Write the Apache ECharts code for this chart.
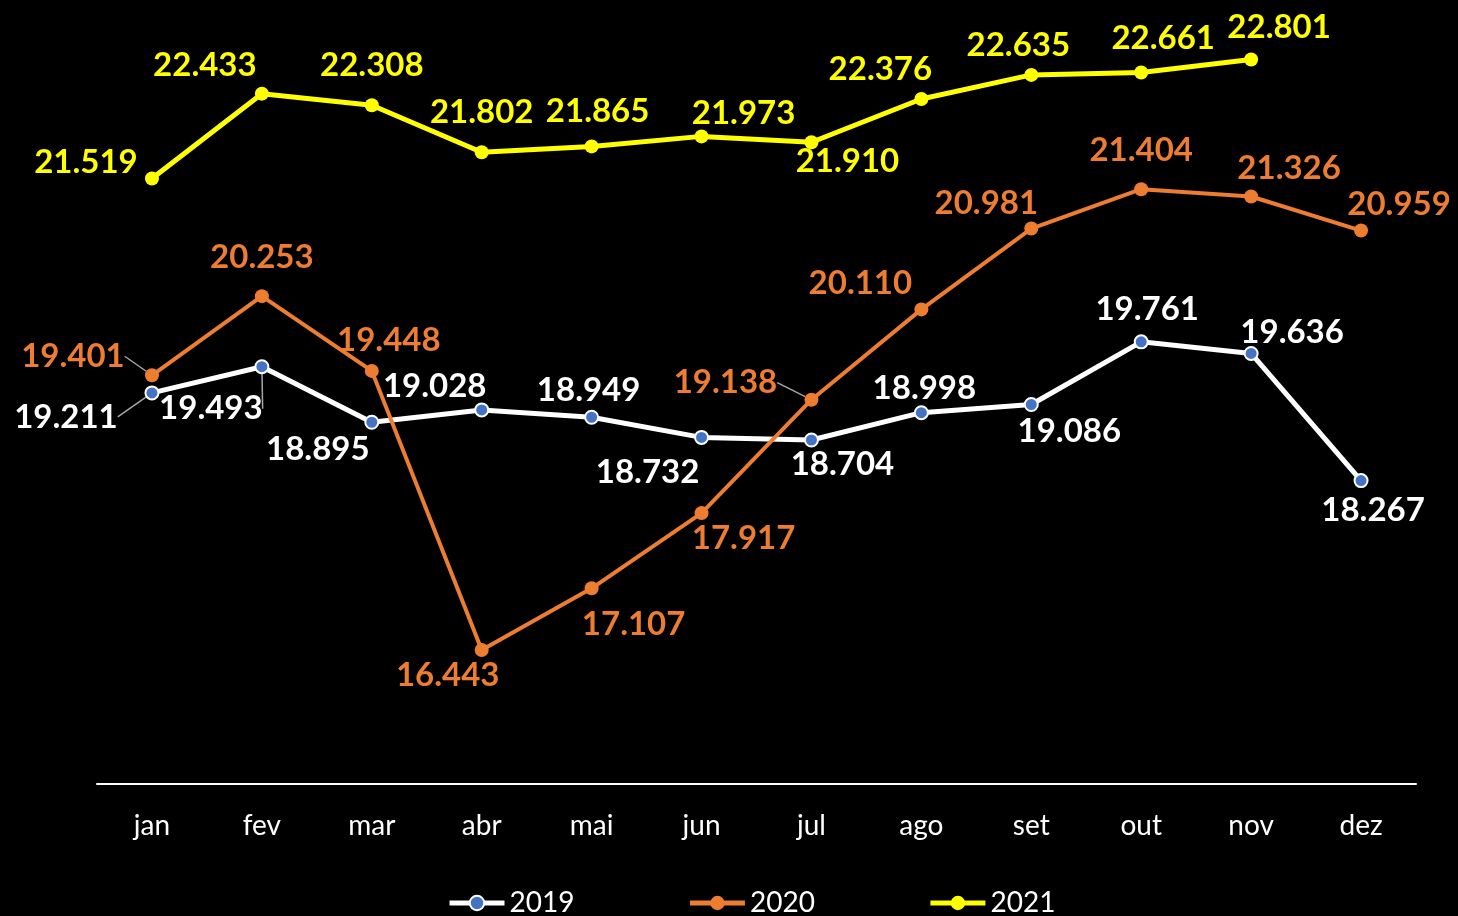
<!DOCTYPE html>
<html>
<head>
<meta charset="utf-8">
<style>
  html, body { margin: 0; padding: 0; background: #000; }
  #chart { width: 1458px; height: 916px; }
</style>
<script src="https://cdn.jsdelivr.net/npm/echarts@6/dist/echarts.min.js"></script>
</head>
<body>
<div id="chart"></div>
<script>
const months = ['jan', 'fev', 'mar', 'abr', 'mai', 'jun', 'jul', 'ago', 'set', 'out', 'nov', 'dez']
const seriesNames = ['2019', '2020', '2021']
const values2019 = [19.211, 19.493, 18.895, 19.028, 18.949, 18.732, 18.704, 18.998, 19.086, 19.761, 19.636, 18.267]
const values2020 = [19.401, 20.253, 19.448, 16.443, 17.107, 17.917, 19.138, 20.110, 20.981, 21.404, 21.326, 20.959]
const values2021 = [21.519, 22.433, 22.308, 21.802, 21.865, 21.973, 21.910, 22.376, 22.635, 22.661, 22.801]

// label offsets (px) from each point
const offsets = [
  [[-86, 24], [-51, 42], [-54, 27], [-47, -24], [-3, -27], [-54, 35], [31, 24], [3, -24], [38, 27], [6, -32], [41, -21], [12, 30]],
  [[-79, -19], [0, -39], [17, -31], [-34, 25], [42, 36], [42, 25], [-86, -17], [-61, -26], [-45, -25], [0, -39], [38, -28], [38, -26]],
  [[-66, -16], [-57, -28], [0, -40], [0, -40], [6, -35], [42, -23], [36, 19], [-41, -30], [-13, -30], [22, -34], [28, -32]]
]
// points whose label has a leader line
const leaders = [[0, 1], [0, 6], []]

const labelFont = 'Lato, "Open Sans", sans-serif'

const makeSeries = ( idx, values, color, lineWidth, symbolSize, symbolColor, borderColor ) => ( {
  name : seriesNames[idx],
  type : 'line',
  data : values.map( ( v, i ) => ( {
    value : v,
    labelLine : { show : leaders[idx].includes( i ) }
  } ) ),
  symbol : 'circle',
  symbolSize,
  lineStyle : { color, width : lineWidth },
  itemStyle : { color : symbolColor, borderColor, borderWidth : borderColor ? 2 : 0 },
  label : {
    show : true,
    position : 'inside',
    color,
    fontFamily : labelFont,
    fontWeight : 'bold',
    fontSize : 33,
    formatter : p => p.value.toFixed( 3 )
  },
  labelLine : {
    lineStyle : { color : '#a6a6a6', width : 1.5 }
  },
  labelLayout : p => {
    const o = offsets[idx][p.dataIndex]
    return { dx : o[0], dy : o[1] }
  },
  emphasis : { disabled : true },
  animation : false
} )

const chart = echarts.init( document.getElementById( 'chart' ) )
chart.setOption( {
  backgroundColor : '#000',
  grid : {
    left : 97,
    right : 42,
    top : 41,
    bottom : 132
  },
  legend : {
    data : seriesNames,
    top : 884,
    left : 442,
    itemWidth : 55,
    itemHeight : 18,
    itemGap : 113,
    lineStyle : { width : 5 },
    textStyle : { color : '#fff', fontSize : 28, fontFamily : labelFont }
  },
  xAxis : {
    type : 'category',
    data : months,
    boundaryGap : true,
    axisLine : { lineStyle : { color : '#fff', width : 2 } },
    axisTick : { show : false },
    axisLabel : { color : '#fff', fontSize : 28, fontFamily : labelFont, margin : 28 }
  },
  yAxis : {
    type : 'value',
    min : 15,
    max : 23,
    show : false,
    splitLine : { show : false }
  },
  series : [
    makeSeries( 0, values2019, '#ffffff', 5, 13, '#4472C4', '#ffffff' ),
    makeSeries( 1, values2020, '#ED7D31', 4, 14, '#ED7D31', null ),
    makeSeries( 2, values2021, '#FFFF00', 5, 14, '#FFFF00', null )
  ]
} )
</script>
</body>
</html>
